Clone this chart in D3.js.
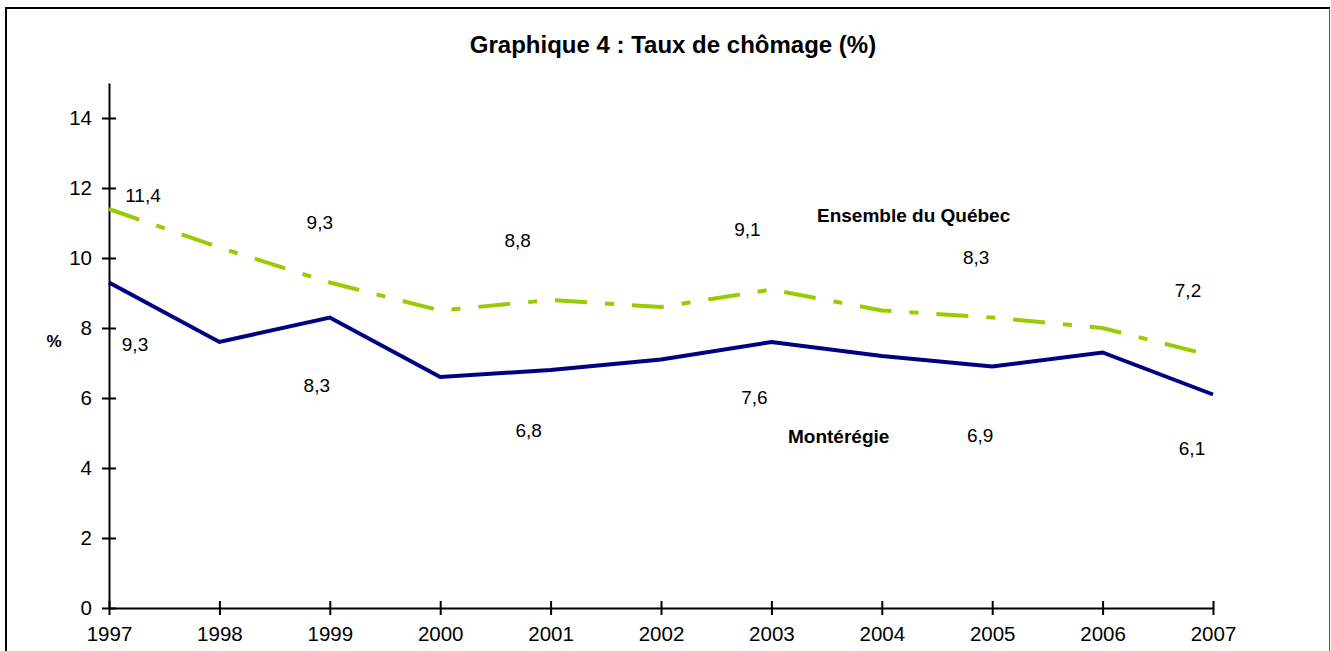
<!DOCTYPE html>
<html>
<head>
<meta charset="utf-8">
<script src="https://cdn.jsdelivr.net/npm/d3@7"></script>
<style>
  body { margin: 0; background: #fff; }
  text { font-family: Arial, 'Liberation Sans', sans-serif; fill: #000; }
</style>
</head>
<body>
<div id="app"></div>
<script>
const years = ['1997', '1998', '1999', '2000', '2001', '2002', '2003', '2004', '2005', '2006', '2007'];
const quebec = [11.4, 10.3, 9.3, 8.5, 8.8, 8.6, 9.1, 8.5, 8.3, 8.0, 7.2];
const monteregie = [9.3, 7.6, 8.3, 6.6, 6.8, 7.1, 7.6, 7.2, 6.9, 7.3, 6.1];
const yTicks = [0, 2, 4, 6, 8, 10, 12, 14];

// label placement (pixels from the point), only odd years are labelled
const labelledYears = ['1997', '1999', '2001', '2003', '2005', '2007'];
const quebecLabelOffsets = [[34, -14], [-10, -60], [-33, -60], [-24, -60], [-16, -60], [-25, -66]];
const monteLabelOffsets = [[26, 62], [-13, 68], [-22, 60], [-17, 55], [-12, 69], [-21, 54]];

const fmt = (v) => v.toFixed(1).replace('.', ',');

const width = 1331;
const height = 651;

const svg = d3.select('#app')
  .append('svg')
  .attr('width', width)
  .attr('height', height);

// frame: heavy top/left, thin grey right edge
svg.append('path')
  .attr('d', 'M6,651 V8 H1330')
  .attr('fill', 'none')
  .attr('stroke', '#000')
  .attr('stroke-width', 2);
svg.append('line')
  .attr('x1', 1329.5).attr('x2', 1329.5)
  .attr('y1', 8).attr('y2', 651)
  .attr('stroke', '#555')
  .attr('stroke-width', 1);

const x = d3.scalePoint().domain(years).range([109, 1213]).padding(0);
const y = d3.scaleLinear().domain([0, 15]).range([608, 83]);

// title
svg.append('text')
  .attr('x', 673)
  .attr('y', 53)
  .attr('text-anchor', 'middle')
  .attr('font-size', 24)
  .attr('font-weight', 'bold')
  .text('Graphique 4 : Taux de chômage (%)');

// y axis
const yAxis = svg.append('g')
  .attr('transform', 'translate(109,0)')
  .call(d3.axisLeft(y).tickValues(yTicks).tickSizeOuter(0).tickSizeInner(7).tickPadding(10));
yAxis.selectAll('.tick line').attr('x1', 7).attr('x2', -7).attr('stroke-width', 2);
yAxis.select('.domain').attr('stroke-width', 2);
yAxis.selectAll('text').attr('font-size', 20.5).attr('x', -17).style('font-family', 'Arial, "Liberation Sans", sans-serif');

// x axis
const xAxis = svg.append('g')
  .attr('transform', `translate(0,${y(0)})`)
  .call(d3.axisBottom(x).tickSizeOuter(0).tickSizeInner(7).tickPadding(10));
xAxis.selectAll('.tick line').attr('y1', -7).attr('y2', 7).attr('stroke-width', 2);
xAxis.select('.domain').attr('stroke-width', 2);
xAxis.selectAll('text').attr('font-size', 20.5).attr('y', 18).attr('dy', '0.71em').style('font-family', 'Arial, "Liberation Sans", sans-serif');

// unit label
svg.append('text')
  .attr('x', 54)
  .attr('y', 347)
  .attr('text-anchor', 'middle')
  .attr('font-size', 17)
  .attr('font-weight', 'bold')
  .text('%');

const line = d3.line()
  .x((d, i) => x(years[i]))
  .y((d) => y(d));

svg.append('path')
  .datum(quebec)
  .attr('d', line)
  .attr('fill', 'none')
  .attr('stroke', '#99CC00')
  .attr('stroke-width', 4)
  .attr('stroke-dasharray', '32,18,9,18');

svg.append('path')
  .datum(monteregie)
  .attr('d', line)
  .attr('fill', 'none')
  .attr('stroke', '#000080')
  .attr('stroke-width', 4)
  .attr('stroke-linejoin', 'miter');

// value labels
const drawLabels = (values, offsets) => {
  svg.append('g')
    .selectAll('text')
    .data(labelledYears)
    .enter()
    .append('text')
    .attr('x', (d, i) => x(d) + offsets[i][0])
    .attr('y', (d, i) => y(values[years.indexOf(d)]) + offsets[i][1])
    .attr('dy', '0.36em')
    .attr('text-anchor', 'middle')
    .attr('font-size', 19)
    .text((d) => fmt(values[years.indexOf(d)]));
};
drawLabels(quebec, quebecLabelOffsets);
drawLabels(monteregie, monteLabelOffsets);

// series names
svg.append('text')
  .attr('x', 817)
  .attr('y', 222)
  .attr('font-size', 19)
  .attr('font-weight', 'bold')
  .text('Ensemble du Québec');

svg.append('text')
  .attr('x', 788)
  .attr('y', 443)
  .attr('font-size', 19)
  .attr('font-weight', 'bold')
  .text('Montérégie');
</script>
</body>
</html>
